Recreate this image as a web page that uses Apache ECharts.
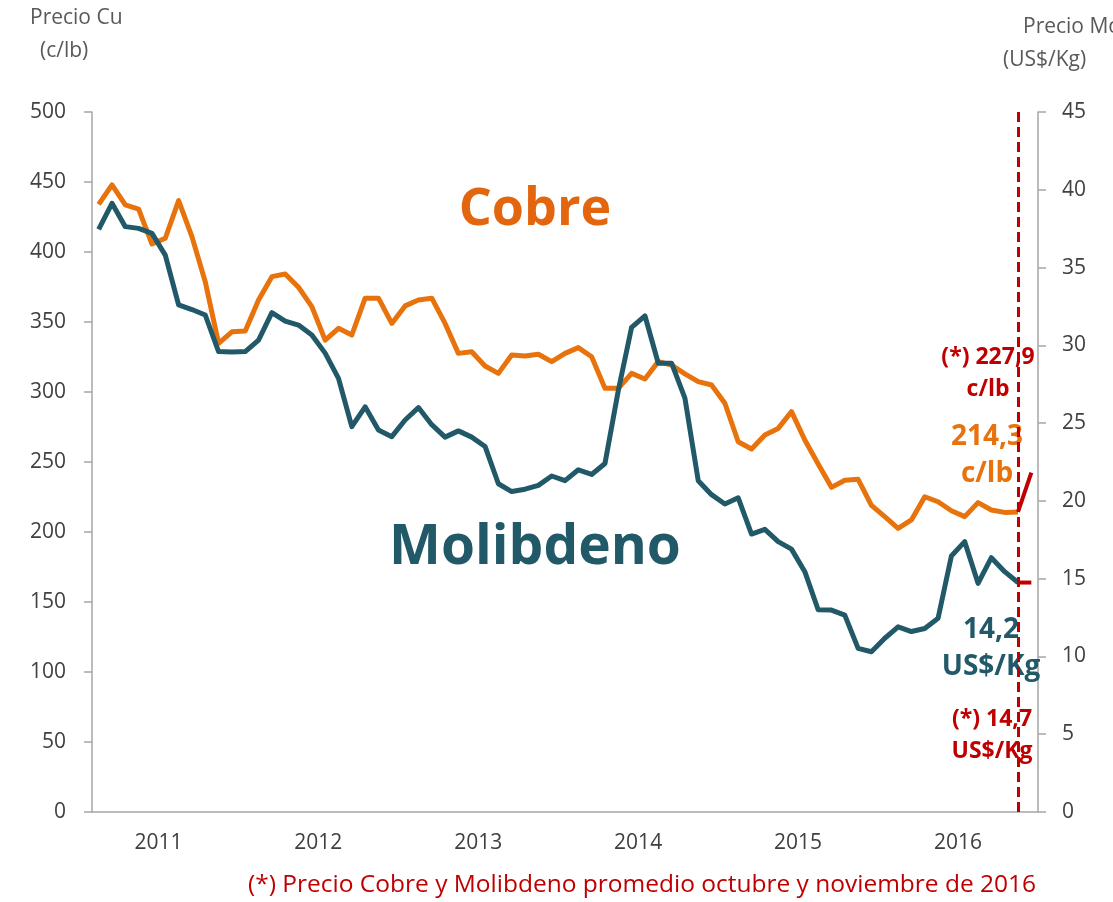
<!DOCTYPE html>
<html>
<head>
<meta charset="utf-8">
<script src="https://cdn.jsdelivr.net/npm/echarts@6/dist/echarts.min.js"></script>
<style>
html,body{margin:0;padding:0;background:#fff;}
#chart{width:1113px;height:902px;}
</style>
</head>
<body>
<div id="chart"></div>
<script>
// Monthly categories Jan 2011 .. Nov 2016
const years = ['2011','2012','2013','2014','2015','2016'];
const monthNames = ['01','02','03','04','05','06','07','08','09','10','11','12'];
const categories = [];
years.forEach(y => monthNames.forEach(m => categories.push(y + '-' + m)));
categories.length = 71; // ends 2016-11

// Copper price (c/lb), Jan 2011 .. Oct 2016
const cobre = [
  434, 448, 433.6, 430.7, 405.7, 409.8, 436.7, 411, 378.8, 334.8, 343, 343.6,
  365.7, 382.4, 384.3, 374.8, 361, 337, 345.5, 340.7, 367, 367, 349, 361.5,
  365.7, 367, 349, 327.6, 328.8, 318.6, 313.3, 326.4, 325.7, 327, 321.7, 327.6,
  331.7, 325.2, 302.6, 302.6, 313.3, 309.3, 321.7, 319.3, 312.9, 307.4, 305, 292,
  264.5, 259.3, 269.3, 274, 286, 265.7, 248.6, 231.9, 237, 237.6, 219, 211,
  202.6, 208.6, 225.2, 221.6, 215.2, 211, 221, 215.7, 214, 214.3
];
// Molybdenum price (US$/Kg), Jan 2011 .. Oct 2016
const molibdeno = [
  37.46, 39.13, 37.63, 37.52, 37.2, 35.8, 32.6, 32.3, 31.95, 29.6, 29.57, 29.6,
  30.34, 32.1, 31.56, 31.3, 30.66, 29.5, 27.88, 24.77, 26.05, 24.56, 24.13, 25.2,
  26.0, 24.9, 24.1, 24.5, 24.1, 23.5, 21.1, 20.6, 20.75, 21.0, 21.6, 21.3,
  22.0, 21.7, 22.4, 27.1, 31.16, 31.9, 28.85, 28.85, 26.6, 21.3, 20.4, 19.8,
  20.2, 17.87, 18.17, 17.38, 16.9, 15.45, 13.0, 12.98, 12.66, 10.52, 10.3, 11.17,
  11.9, 11.6, 11.8, 12.45, 16.46, 17.38, 14.7, 16.35, 15.45, 14.75
];
// Extension segments (Oct -> Nov 2016)
const cobreExt = [214.3, 242.4];
const moliExt = [14.75, 14.75];

const leftTicks = [0, 50, 100, 150, 200, 250, 300, 350, 400, 450, 500];
const rightTicks = [0, 5, 10, 15, 20, 25, 30, 35, 40, 45];

const pad = (n) => new Array(n).fill(null);
const cobreRed = pad(69).concat(cobreExt);
const moliRed = pad(69).concat(moliExt);

const FONT = '"Open Sans", "Liberation Sans", sans-serif';
const AX = '#a6a6a6';
const TXT = '#404040';

const chart = echarts.init(document.getElementById('chart'), null, {renderer: 'canvas'});
chart.setOption({
  animation: false,
  backgroundColor: '#ffffff',
  grid: {left: 92, right: 75, top: 112, bottom: 90, containLabel: false},
  xAxis: {
    type: 'category',
    data: categories,
    boundaryGap: true,
    axisLine: {show: true, lineStyle: {color: AX, width: 1.5}},
    axisTick: {show: false},
    axisLabel: {
      interval: (idx) => idx % 12 === 4,
      margin: 21,
      color: TXT,
      fontFamily: FONT,
      fontSize: 21,
      formatter: (v) => '{y|' + v.slice(0, 4) + '}',
      rich: {y: {padding: [0, 0, 0, 13], color: TXT, fontFamily: FONT, fontSize: 21}}
    },
    splitLine: {show: false}
  },
  yAxis: [
    {
      type: 'value', min: leftTicks[0], max: leftTicks[leftTicks.length - 1], interval: 50,
      position: 'left',
      axisLine: {show: true, lineStyle: {color: AX, width: 1.5}},
      axisTick: {show: true, length: 8, lineStyle: {color: AX, width: 1.5}},
      axisLabel: {margin: 26, color: TXT, fontFamily: FONT, fontSize: 21},
      splitLine: {show: false}
    },
    {
      type: 'value', min: rightTicks[0], max: rightTicks[rightTicks.length - 1], interval: 5,
      position: 'right',
      axisLine: {show: true, lineStyle: {color: AX, width: 1.5}},
      axisTick: {show: true, length: 8, lineStyle: {color: AX, width: 1.5}},
      axisLabel: {margin: 24, color: TXT, fontFamily: FONT, fontSize: 21},
      splitLine: {show: false}
    }
  ],
  series: [
    {
      name: 'Cobre', type: 'line', yAxisIndex: 0, data: cobre,
      symbol: 'none', lineStyle: {color: '#E8720C', width: 5, join: 'round'}, z: 3
    },
    {
      name: 'Molibdeno', type: 'line', yAxisIndex: 1, data: molibdeno,
      symbol: 'none', lineStyle: {color: '#215968', width: 5, join: 'round'}, z: 3
    },
    {
      name: 'CobreExt', type: 'line', yAxisIndex: 0, data: cobreRed,
      symbol: 'none', lineStyle: {color: '#C00000', width: 4}, z: 4,
      markLine: {
        silent: true, symbol: 'none',
        label: {show: false},
        lineStyle: {color: '#C00000', width: 3, type: [10, 5]},
        data: [{xAxis: categories[69]}]
      }
    },
    {
      name: 'MoliExt', type: 'line', yAxisIndex: 1, data: moliRed,
      symbol: 'none', lineStyle: {color: '#C00000', width: 4}, z: 4
    }
  ],
  graphic: [
    {type: 'text', left: 30, top: 8, style: {text: 'Precio Cu', font: '21px ' + FONT, fill: '#595959'}},
    {type: 'text', left: 40, top: 41, style: {text: '(c/lb)', font: '21px ' + FONT, fill: '#595959'}},
    {type: 'text', left: 1023, top: 17, style: {text: 'Precio Mo', font: '21px ' + FONT, fill: '#595959'}},
    {type: 'text', left: 1003, top: 50, style: {text: '(US$/Kg)', font: '21px ' + FONT, fill: '#595959'}},
    {type: 'text', x: 535, y: 210, style: {text: 'Cobre', font: 'bold 52px ' + FONT, fill: '#E3650E', textAlign: 'center', textVerticalAlign: 'middle'}},
    {type: 'text', x: 535, y: 548, style: {text: 'Molibdeno', font: 'bold 55px ' + FONT, fill: '#215968', textAlign: 'center', textVerticalAlign: 'middle'}},
    {type: 'text', x: 988, y: 373, z: 1, style: {text: '(*) 227,9\nc/lb', font: 'bold 23px ' + FONT, lineHeight: 32, fill: '#C00000', textAlign: 'center', textVerticalAlign: 'middle'}},
    {type: 'text', x: 987, y: 456, z: 1, style: {text: '214,3\nc/lb', font: 'bold 28px ' + FONT, lineHeight: 37, fill: '#E8720C', textAlign: 'center', textVerticalAlign: 'middle'}},
    {type: 'text', x: 991, y: 649, z: 1, style: {text: '14,2\nUS$/Kg', font: 'bold 28px ' + FONT, lineHeight: 37, fill: '#215968', textAlign: 'center', textVerticalAlign: 'middle'}},
    {type: 'text', x: 992, y: 735, z: 1, style: {text: '(*) 14,7\nUS$/Kg', font: 'bold 23px ' + FONT, lineHeight: 32, fill: '#C00000', textAlign: 'center', textVerticalAlign: 'middle'}},
    {type: 'text', left: 248, top: 873, style: {text: '(*) Precio Cobre y Molibdeno promedio octubre y noviembre de 2016', font: '24.5px ' + FONT, fill: '#C00000'}}
  ]
});
</script>
</body>
</html>
